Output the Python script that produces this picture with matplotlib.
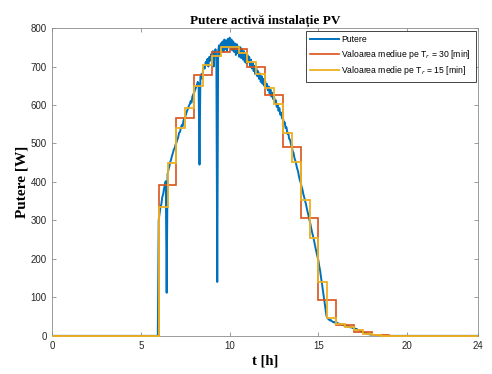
import numpy as np
import matplotlib
matplotlib.use("Agg")
import matplotlib.pyplot as plt

# Measured active power of the PV installation, 3-minute samples from 06:00
day_start = 6.0
sample_step = 0.05  # hours
day_power = [
    # 6 h
    300, 318, 335, 342, 360, 368, 382, 395, 402, 112, 420, 432, 440, 452, 458, 468, 475, 484, 488, 497,
    # 7 h
    502, 510, 516, 528, 530, 540, 548, 545, 560, 566, 570, 578, 585, 590, 598, 602, 610, 606, 622, 628,
    # 8 h
    632, 640, 645, 652, 660, 655, 445, 672, 680, 668, 690, 700, 695, 712, 705, 720, 700, 725, 715, 732,
    # 9 h
    718, 740, 700, 735, 745, 725, 140, 740, 755, 728, 760, 742, 765, 738, 770, 745, 768, 740, 772, 750,
    # 10 h
    775, 748, 770, 742, 765, 738, 760, 730, 758, 735, 752, 725, 750, 722, 745, 718, 740, 712, 735, 708,
    # 11 h
    730, 712, 725, 700, 718, 695, 710, 688, 702, 680, 695, 675, 688, 668, 682, 660, 675, 655, 668, 650,
    # 12 h
    662, 645, 655, 638, 648, 630, 640, 622, 632, 615, 622, 605, 612, 595, 602, 585, 592, 575, 580, 565,
    # 13 h
    568, 552, 555, 540, 542, 525, 528, 512, 510, 498, 492, 480, 475, 462, 455, 445, 435, 428, 415, 405,
    # 14 h
    398, 388, 380, 368, 360, 350, 342, 330, 320, 310, 300, 290, 278, 268, 258, 248, 236, 225, 215, 205,
    # 15 h
    195, 180, 168, 150, 135, 118, 100, 82, 65, 52, 47, 44, 42, 40, 41, 38, 37, 35, 36, 34,
    # 16 h
    33, 34, 31, 32, 30, 31, 29, 28, 29, 27, 26, 27, 25, 24, 25, 23, 22, 23, 21, 20,
    # 17 h
    20, 19, 18, 18, 16, 15, 14, 13, 12, 11, 10, 9, 8, 7, 6, 6, 5, 4, 4, 3,
    # 18 h
    3, 2, 2, 1, 1, 1, 0,
]

# Averages over 1-hour windows (orange) and 30-minute windows (yellow)
hour_edges = list(range(0, 25))
hourly_mean = [0, 0, 0, 0, 0, 0, 393, 565, 678, 738, 745, 700,
               625, 490, 306, 93, 28, 10, 1, 0, 0, 0, 0, 0]
half_edges = [h / 2 for h in range(0, 49)]
halfhour_mean = [0] * 12 + [
    335, 448, 540, 592, 650, 705, 727, 752, 752, 735, 712, 680,
    643, 603, 527, 452, 353, 255, 140, 46, 31, 24, 15, 6, 2, 0,
] + [0] * 10

legend_labels = [
    "Putere",
    r"Valoarea mediue pe T$_r$ = 30 [min]",
    r"Valoarea medie pe T$_r$ = 15 [min]",
]
x_ticks = [0, 5, 10, 15, 20, 24]
y_ticks = list(range(0, 801, 100))

# Full-day series: zero outside the daylight samples
t = np.round(np.arange(0, 24 + 1e-9, sample_step), 4)
power = np.zeros_like(t)
i0 = int(round(day_start / sample_step))
power[i0:i0 + len(day_power)] = day_power

c_blue = "#0072BD"
c_orange = "#D95319"
c_yellow = "#EDB120"
ink = "#262626"
frame = "#8c8c8c"

fig = plt.figure(figsize=(4.92, 3.74), dpi=100)
ax = fig.add_axes([0.106, 0.102, 0.866, 0.823])

ax.plot(t, power, color=c_blue, lw=1.4, label=legend_labels[0], zorder=3)
ax.stairs(hourly_mean, hour_edges, color=c_orange, lw=1.2, baseline=None,
          label=legend_labels[1], zorder=4)
ax.stairs(halfhour_mean, half_edges, color=c_yellow, lw=1.3, baseline=None,
          label=legend_labels[2], zorder=5, clip_on=False)

ax.set_xlim(0, 24)
ax.set_ylim(0, 800)
ax.set_xticks(x_ticks)
ax.set_yticks(y_ticks)
ax.tick_params(direction="in", top=True, right=True, length=3, width=0.6,
               colors=frame, labelcolor=ink, labelsize=7, pad=4)
for lab in ax.get_xticklabels() + ax.get_yticklabels():
    lab.set_fontfamily("Liberation Sans")
for s in ax.spines.values():
    s.set_color(frame)
    s.set_linewidth(0.6)
    s.set_zorder(2)

serif = {"family": "Liberation Serif", "weight": "bold"}
ax.set_title("Putere activă instalație PV", fontdict=serif, fontsize=9.5, pad=3)
ax.set_xlabel("t [h]", fontdict=serif, fontsize=10.5, labelpad=2)
ax.set_ylabel("Putere [W]", fontdict=serif, fontsize=11, labelpad=1)

leg = ax.legend(loc="upper right", handlelength=3.3,
                handletextpad=0.3, borderpad=0.55, labelspacing=0.4,
                fancybox=False, framealpha=1, borderaxespad=0.3,
                prop={"family": "Liberation Sans", "size": 6.2})
leg.get_frame().set_edgecolor(ink)
leg.get_frame().set_linewidth(0.6)
leg.set_zorder(10)

fig.savefig("out.png", dpi=100)
